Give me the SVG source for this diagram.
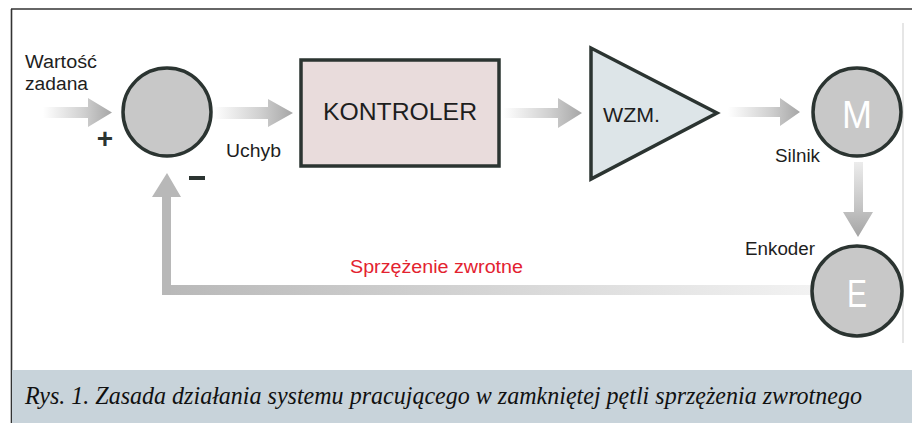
<svg xmlns="http://www.w3.org/2000/svg" width="912" height="423" viewBox="0 0 912 423">
<defs>
<linearGradient id="gh" x1="0" y1="0" x2="1" y2="0">
<stop offset="0" stop-color="#ffffff"/>
<stop offset="0.6" stop-color="#cfcfcf"/>
<stop offset="1" stop-color="#a6a6a6"/>
</linearGradient>
<linearGradient id="gv" x1="0" y1="0" x2="0" y2="1">
<stop offset="0" stop-color="#ececec"/>
<stop offset="0.6" stop-color="#c4c4c4"/>
<stop offset="1" stop-color="#a4a4a4"/>
</linearGradient>
<linearGradient id="gfb" x1="0" y1="0" x2="1" y2="0">
<stop offset="0" stop-color="#b8b8b8"/>
<stop offset="1" stop-color="#f2f2f2"/>
</linearGradient>
</defs>
<style>
.lbl{font-family:"Liberation Sans",Arial,sans-serif;font-size:18px;fill:#1e1e1e}
.node{stroke:#2b3431;stroke-width:3.5}
.big{font-family:"Liberation Sans",Arial,sans-serif;fill:#ffffff;text-anchor:middle}
</style>
<rect width="912" height="423" fill="#ffffff"/>
<g id="frame">
<line x1="11" y1="9" x2="912" y2="9" stroke="#333" stroke-width="1.6"/>
<line x1="11.5" y1="9" x2="11.5" y2="423" stroke="#333" stroke-width="1.6"/>
<line x1="903" y1="23" x2="903" y2="343" stroke="#e6e6e6" stroke-width="2"/>
<rect x="12" y="370" width="900" height="53" fill="#c8d3da"/>
<text x="25" y="404" font-family="'Liberation Serif','Times New Roman',serif" font-style="italic" font-size="25" fill="#111" textLength="837" lengthAdjust="spacingAndGlyphs">Rys. 1. Zasada działania systemu pracującego w zamkniętej pętli sprzężenia zwrotnego</text>
</g>
<g id="connectors">
<path d="M43 107 H88 V98 L112 112.5 L88 127 V118 H43 Z" fill="url(#gh)"/>
<path d="M213 107 H268 V99 L293 113 L268 127 V119 H213 Z" fill="url(#gh)"/>
<path d="M503 108 H558 V98 L582 113 L558 128 V118 H503 Z" fill="url(#gh)"/>
<path d="M728 107 H780 V98 L800 112 L780 126 V117 H728 Z" fill="url(#gh)"/>
<path d="M854 162 H863 V212 H873 L858 237 L843 212 H854 Z" fill="url(#gv)"/>
<rect x="162" y="285" width="650" height="10" fill="url(#gfb)"/>
<path d="M162 295 V197 H152 L167 173 L181 197 H171 V295 Z" fill="#b8b8b8"/>
</g>
<g id="labels">
<text class="lbl" x="25" y="68" textLength="72" lengthAdjust="spacingAndGlyphs">Wartość</text>
<text class="lbl" x="25" y="90" textLength="63" lengthAdjust="spacingAndGlyphs">zadana</text>
<text x="105" y="148" font-family="'Liberation Sans',Arial,sans-serif" font-size="28" font-weight="bold" fill="#2b3431" text-anchor="middle">+</text>
<rect x="189" y="176" width="16" height="4" fill="#2b3431"/>
<text class="lbl" x="226" y="157" textLength="55" lengthAdjust="spacingAndGlyphs">Uchyb</text>
<text class="lbl" x="775" y="162" textLength="45" lengthAdjust="spacingAndGlyphs">Silnik</text>
<text class="lbl" x="745" y="255" textLength="70" lengthAdjust="spacingAndGlyphs">Enkoder</text>
<text x="350" y="273" font-family="'Liberation Sans',Arial,sans-serif" font-size="18" fill="#e3222f" textLength="173" lengthAdjust="spacingAndGlyphs">Sprzężenie zwrotne</text>
</g>
<g id="sum">
<circle class="node" cx="167" cy="112" r="44" fill="#c8c8c8"/>
</g>
<g id="kontroler">
<rect class="node" x="301" y="60" width="198" height="106" fill="#e9dcdc" stroke-width="4"/>
<text x="400" y="120" font-family="'Liberation Sans',Arial,sans-serif" font-size="24.5" fill="#1e1e1e" text-anchor="middle" textLength="154" lengthAdjust="spacingAndGlyphs">KONTROLER</text>
</g>
<g id="wzm">
<polygon class="node" points="591,48 591,179 717,113" fill="#dde5e8" stroke-linejoin="miter"/>
<text x="603" y="122" font-family="'Liberation Sans',Arial,sans-serif" font-size="21" fill="#1e1e1e" textLength="57" lengthAdjust="spacingAndGlyphs">WZM.</text>
</g>
<g id="silnik">
<circle class="node" cx="857" cy="112" r="44" fill="#c8c8c8"/>
<text class="big" x="857" y="128" font-size="38" textLength="30" lengthAdjust="spacingAndGlyphs">M</text>
</g>
<g id="enkoder">
<circle class="node" cx="857" cy="291" r="45" fill="#c8c8c8"/>
<text class="big" x="857" y="307" font-size="39" textLength="20" lengthAdjust="spacingAndGlyphs">E</text>
</g>
</svg>
